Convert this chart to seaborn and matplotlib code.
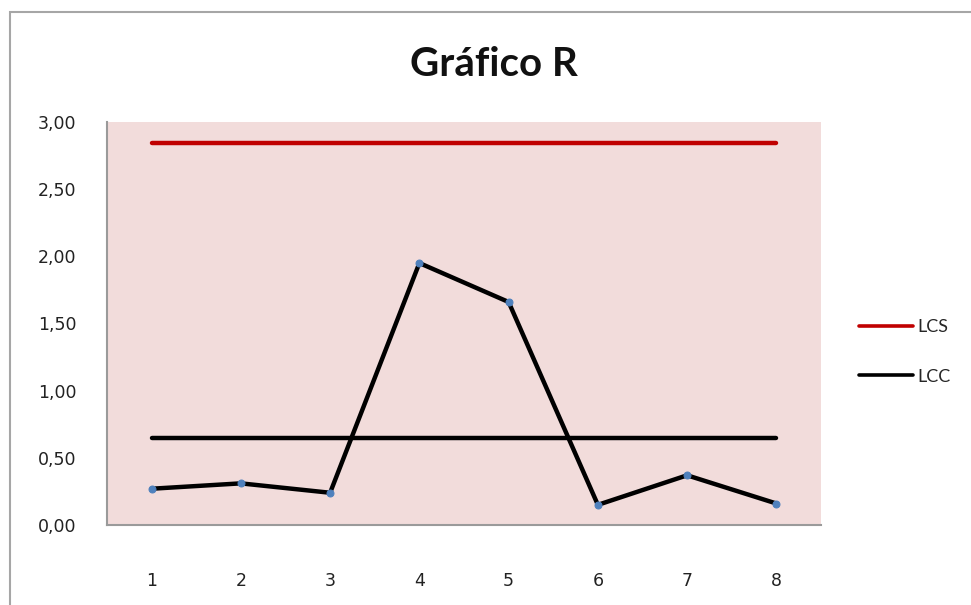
import matplotlib
matplotlib.use("Agg")
import matplotlib.pyplot as plt
from matplotlib.patches import Rectangle
from matplotlib.lines import Line2D
from matplotlib.ticker import FuncFormatter
import pandas as pd
import seaborn as sns

# Range per subgroup (R chart) and its control limits
subgroups = [1, 2, 3, 4, 5, 6, 7, 8]
ranges = [0.27, 0.31, 0.24, 1.95, 1.66, 0.15, 0.37, 0.16]
lcs = 2.84   # upper control limit
lcc = 0.645  # centre line
title = "Gráfico R"
y_ticks = [0.0, 0.5, 1.0, 1.5, 2.0, 2.5, 3.0]

sns.set_theme(style="white")
plt.rcParams["font.family"] = ["DejaVu Sans"]

df = pd.DataFrame({"Subgrupo": subgroups, "R": ranges})
limits = pd.DataFrame({
    "Subgrupo": [subgroups[0], subgroups[-1]] * 2,
    "valor": [lcs, lcs, lcc, lcc],
    "linha": ["LCS", "LCS", "LCC", "LCC"],
})

W, H = 971, 605
fig = plt.figure(figsize=(W / 100, H / 100), dpi=100)
fig.patch.set_facecolor("white")
ax = fig.add_axes([107 / W, 1 - 525 / H, (821 - 107) / W, (525 - 122) / H])
ax.set_facecolor("#F2DCDB")

sns.lineplot(data=limits, x="Subgrupo", y="valor", hue="linha",
             palette={"LCS": "#C00000", "LCC": "black"},
             linewidth=3.2, ax=ax, legend=False)
sns.lineplot(data=df, x="Subgrupo", y="R", color="black", linewidth=3.2,
             marker="o", markersize=5, markerfacecolor="#4F81BD",
             markeredgecolor="#4F81BD", ax=ax, legend=False)

ax.set_xlim(0.5, 8.5)
ax.set_ylim(0, 3)
ax.set_xticks(subgroups)
ax.set_yticks(y_ticks)
ax.yaxis.set_major_formatter(FuncFormatter(lambda v, p: f"{v:.2f}".replace(".", ",")))
ax.tick_params(axis="y", length=0, pad=22, labelsize=12.5, colors="#222222")
ax.tick_params(axis="x", length=0, pad=34, labelsize=12.5, colors="#222222")
ax.set_xlabel("")
ax.set_ylabel("")
for side in ["left", "bottom"]:
    ax.spines[side].set_color("#9A9A9A")
    ax.spines[side].set_linewidth(1.5)
for side in ["top", "right"]:
    ax.spines[side].set_visible(False)

# Legend for the control limits
handles = [Line2D([], [], color="#C00000", linewidth=2.6),
           Line2D([], [], color="black", linewidth=2.6)]
fig.legend(handles, ["LCS", "LCC"], loc="center left",
           bbox_to_anchor=(843 / W, 1 - 352 / H), frameon=False,
           handlelength=3.0, handletextpad=0.2, labelspacing=1.85,
           prop={"family": ["Lato", "DejaVu Sans"], "size": 13})

fig.text(494 / W, 1 - 64 / H, title, ha="center", va="center",
         fontsize=29, fontweight="bold", color="#111111",
         family=["Lato", "DejaVu Sans"])

# Outer chart border
fig.patches.append(Rectangle((10 / W, -0.05), 1.2, 1 - 12 / H + 0.05,
                             transform=fig.transFigure, fill=False,
                             edgecolor="#A6A6A6", linewidth=1.5))

fig.savefig("out.png", dpi=100)
